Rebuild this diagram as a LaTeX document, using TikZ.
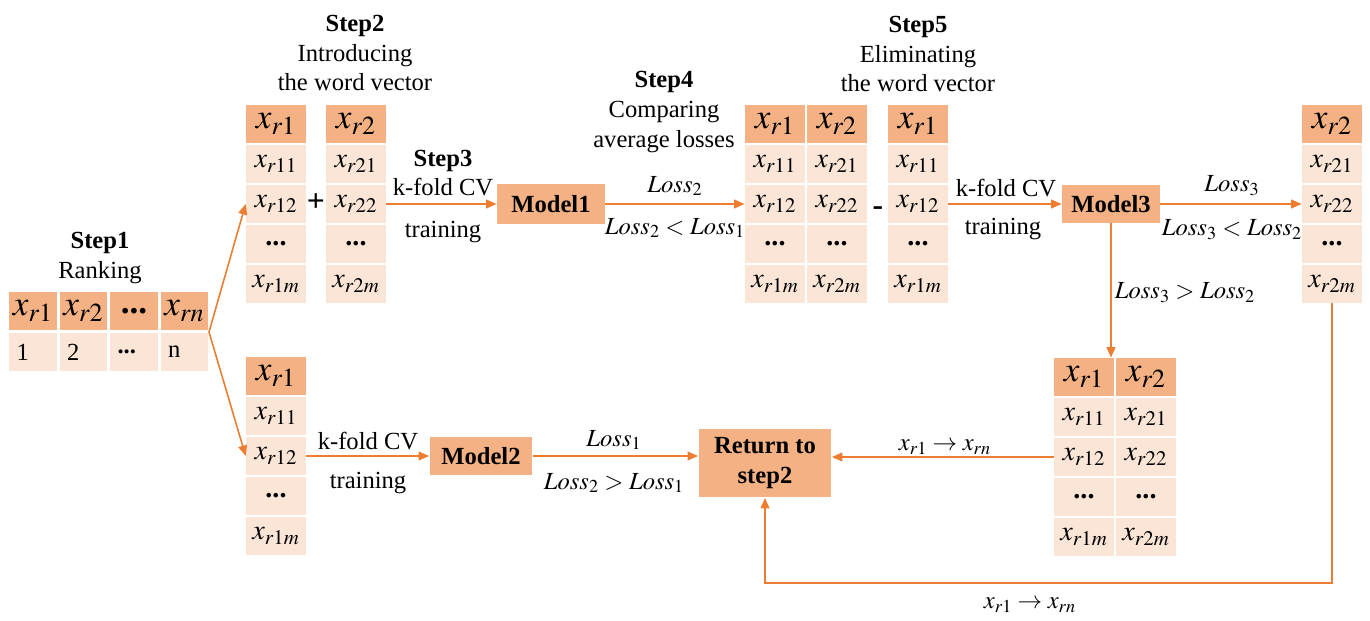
\documentclass[tikz,border=0pt]{standalone}
\usepackage{mathptmx}
\usepackage{fontspec}
\setmainfont{Liberation Serif}
\usetikzlibrary{shapes,arrows.meta,positioning}

\definecolor{hdr}{HTML}{F4B183}
\definecolor{bdy}{HTML}{FBE5D6}
\definecolor{arc}{HTML}{ED7D31}

% one column of a word-vector table: name, x, y of header, header, cells
\newcommand{\wcol}[5]{%
  \node[hd] (#1-0) at (#2,#3) {#4};
  \foreach \t [count=\i] in {#5}
    \node[bd] (#1-\i) at (#2,{#3+40*\i}) {\t};
}

\begin{document}
\begin{tikzpicture}[x=0.02cm, y=-0.02cm,
  font=\fontsize{14}{17}\selectfont,
  hd/.style={fill=hdr, minimum width=1.2cm, minimum height=0.76cm, inner sep=0pt, font=\fontsize{20}{20}\selectfont},
  bd/.style={fill=bdy, minimum width=1.2cm, minimum height=0.76cm, inner sep=0pt, font=\fontsize{16}{16}\selectfont},
  rk/.style={fill=bdy, minimum height=0.78cm, text width=0.66cm, inner xsep=0.15cm, inner ysep=0pt, align=left},
  mdl/.style={fill=hdr, inner sep=0pt, font=\fontsize{14}{17}\selectfont\bfseries, align=center},
  arr/.style={draw=arc, line width=0.9pt, -{Triangle[length=6pt,width=5pt]}}]
\useasboundingbox (0,0) rectangle (1370,621);

% Step1 ranking
\node[align=center] (s1) at (100,258) {\textbf{Step1}\\Ranking};
\foreach \h/\v [count=\i] in {{$x_{r1}$}/1, {$x_{r2}$}/2, {\textbf{...}}/{\textbf{...}}, {$x_{rn}$}/n} {
  \node[hd, minimum width=0.96cm] (r\i) at ({33+50.5*(\i-1)},311) {\h};
  \node[rk] (n\i) at ({33+50.5*(\i-1)},352) {\v};
}
\coordinate (fork) at (209,332);

% Step2 introducing the word vector
\node[align=center] (s2) at (355,53) {\textbf{Step2}\\Introducing\\the word vector};
\wcol{a}{276}{124}{$x_{r1}$}{$x_{r11}$,$x_{r12}$,\textbf{...},$x_{r1m}$}
\wcol{b}{356}{124}{$x_{r2}$}{$x_{r21}$,$x_{r22}$,\textbf{...},$x_{r2m}$}
\node[font=\fontsize{18}{18}\selectfont\bfseries] (plus) at (316,203) {+};

% Step3 training
\node[align=center] (s3) at (443,173) {\textbf{Step3}\\k-fold CV};
\node (t1) at (443,232) {training};
\node[mdl, minimum width=2.16cm, minimum height=0.8cm] (m1) at (551,204) {Model1};

% Step4 comparing
\node[align=center] (s4) at (664,112) {\textbf{Step4}\\Comparing\\average losses};
\node (l2) at (675,186) {$Loss_2$};
\node (l21) at (675,228) {$Loss_2 < Loss_1$};
\wcol{c}{775}{124}{$x_{r1}$}{$x_{r11}$,$x_{r12}$,\textbf{...},$x_{r1m}$}
\wcol{cc}{837}{124}{$x_{r2}$}{$x_{r21}$,$x_{r22}$,\textbf{...},$x_{r2m}$}
\node[font=\fontsize{18}{18}\selectfont\bfseries] (minus) at (878,211) {-};

% Step5 eliminating
\node[align=center] (s5) at (918,54) {\textbf{Step5}\\Eliminating\\the word vector};
\wcol{d}{918}{124}{$x_{r1}$}{$x_{r11}$,$x_{r12}$,\textbf{...},$x_{r1m}$}
\node (k3) at (1006,188) {k-fold CV};
\node (t3) at (1003,229) {training};
\node[mdl, minimum width=1.96cm, minimum height=0.76cm] (m3) at (1111,204) {Model3};
\node (l3) at (1232,186) {$Loss_3$};
\node (l32) at (1232,230) {$Loss_3 < Loss_2$};
\node (l32b) at (1185,293) {$Loss_3 > Loss_2$};
\wcol{e}{1332}{124}{$x_{r2}$}{$x_{r21}$,$x_{r22}$,\textbf{...},$x_{r2m}$}
\wcol{f}{1084}{377}{$x_{r1}$}{$x_{r11}$,$x_{r12}$,\textbf{...},$x_{r1m}$}
\wcol{ff}{1146}{377}{$x_{r2}$}{$x_{r21}$,$x_{r22}$,\textbf{...},$x_{r2m}$}

% lower branch
\wcol{g}{276}{376}{$x_{r1}$}{$x_{r11}$,$x_{r12}$,\textbf{...},$x_{r1m}$}
\node (k2) at (368,441) {k-fold CV};
\node (t2) at (368,483) {training};
\node[mdl, minimum width=2.06cm, minimum height=0.78cm] (m2) at (481,456) {Model2};
\node (l1) at (614,440) {$Loss_1$};
\node (l12) at (614,483) {$Loss_2 > Loss_1$};
\node[mdl, minimum width=2.66cm, minimum height=1.38cm] (ret) at (765,463) {Return to\\step2};
\node (back1) at (945,447) {$x_{r1} \rightarrow x_{rn}$};
\node (back2) at (1030,605) {$x_{r1} \rightarrow x_{rn}$};
\coordinate (loop) at (765,583);

% connectors
\draw[arr] (fork) -- (a-2.west);
\draw[arr] (fork) -- (g-2.west);
\draw[arr] (b-2.east) -- (m1.west);
\draw[arr] (m1.east) -- (c-2.west);
\draw[arr] (d-2.east) -- (m3.west);
\draw[arr] (m3.east) -- (e-2.west);
\draw[arr] (m3.south) -- (m3.south |- f-0.north);
\draw[arr] (g-2.east) -- (m2.west);
\draw[arr] (m2.east) -- (ret.west |- m2.east);
\draw[arr] (f-2.west) -- (ret.east |- f-2.west);
\draw[arr] (e-4.south) |- (loop) -- (ret.south);
\end{tikzpicture}
\end{document}
